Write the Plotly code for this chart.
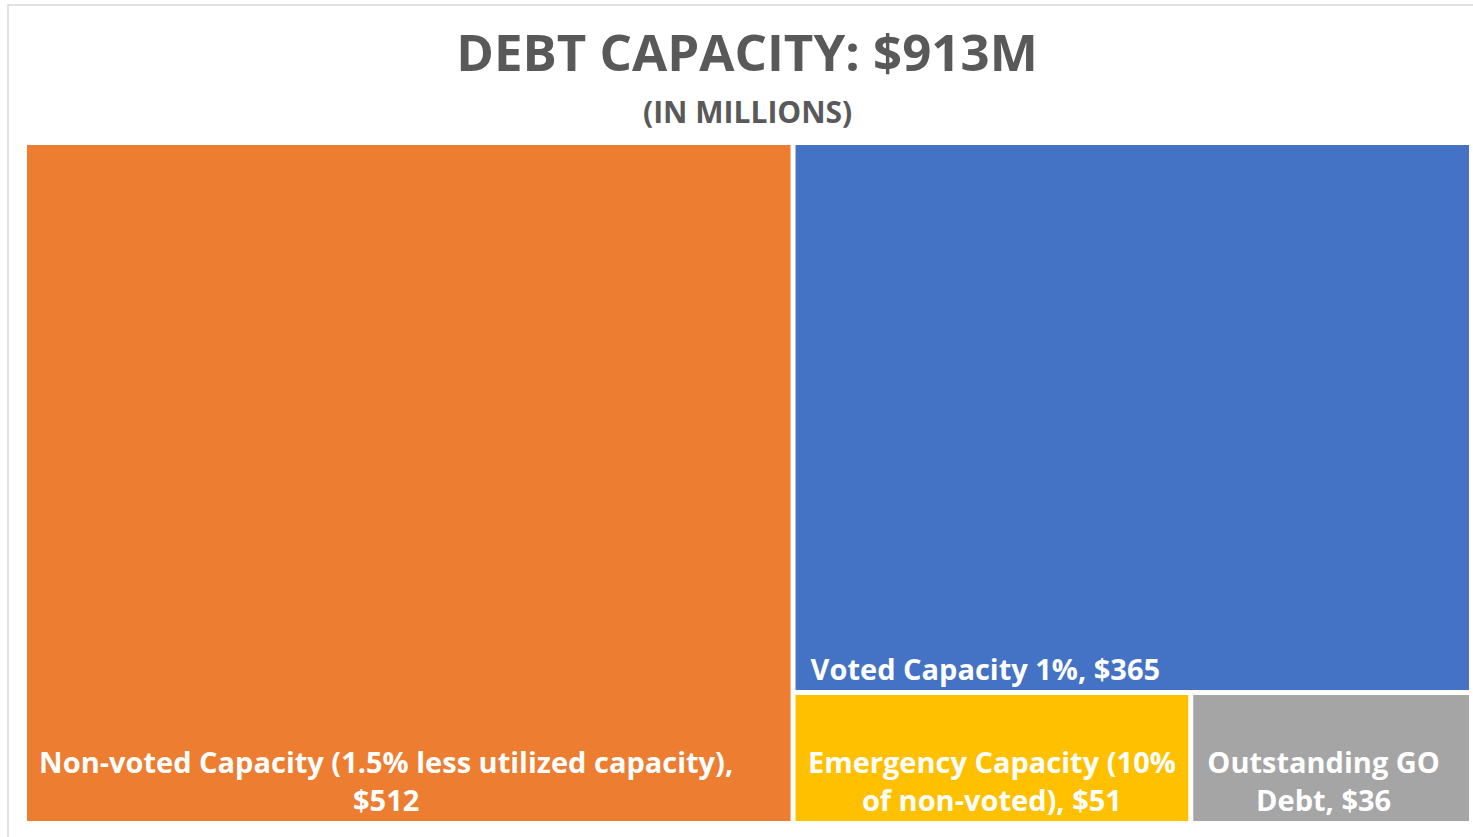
import plotly.graph_objects as go

# Debt capacity components (in millions)
names = [
    "Non-voted Capacity (1.5% less utilized capacity),<br>",
    "Voted Capacity 1%, ",
    "Emergency Capacity (10%<br>of non-voted), ",
    "Outstanding GO<br>Debt, ",
]
ids = ["nonvoted", "voted", "emergency", "outstanding"]
values = [512, 365, 51, 36]
colors = ["#ED7D31", "#4472C4", "#FFC000", "#A5A5A5"]
# trailing non-breaking spaces per label line, nudging labels leftward in their tiles
label_pad = [6, 39, 0, 2]

pads = ["\u00a0" * n for n in label_pad]
shown = [nm.replace("<br>", p + "<br>") for nm, p in zip(names, pads)]

W, H = 1473, 837
ML, MR, MT, MB = 26, 3, 144, 15
PLOT_W = W - ML - MR
PLOT_H = H - MT - MB
CENTER_X = (747 - ML) / PLOT_W

fig = go.Figure(
    go.Treemap(
        ids=ids,
        labels=shown,
        parents=[""] * len(values),
        values=values,
        customdata=pads,
        texttemplate="%{label}$%{value}%{customdata}",
        textposition="bottom center",
        textfont=dict(family="Open Sans", size=29, color="white", weight="bold"),
        marker=dict(
            colors=colors,
            line=dict(color="white", width=2),
            pad=dict(t=0, l=0, r=0, b=0),
        ),
        tiling=dict(packing="squarify", squarifyratio=1),
        pathbar=dict(visible=False),
        sort=True,
        hoverinfo="label+value",
    )
)

fig.update_layout(
    width=W,
    height=H,
    margin=dict(l=ML, r=MR, t=MT, b=MB),
    paper_bgcolor="white",
    title=dict(
        text="DEBT CAPACITY: $913M",
        x=CENTER_X,
        xanchor="center",
        xref="paper",
        y=1 - 53 / H,
        yanchor="middle",
        yref="container",
        font=dict(family="Open Sans", size=51, color="#595959", weight="bold"),
    ),
    annotations=[
        dict(
            text="(IN MILLIONS)",
            xref="paper",
            yref="paper",
            x=CENTER_X,
            y=1 + (MT - 111) / PLOT_H,
            xanchor="center",
            yanchor="middle",
            showarrow=False,
            font=dict(family="Open Sans", size=30, color="#595959", weight="bold"),
        )
    ],
    shapes=[
        dict(
            type="rect",
            xref="paper",
            yref="paper",
            x0=(8 - ML) / PLOT_W,
            x1=1.05,
            y0=-0.05,
            y1=1 + (MT - 5) / PLOT_H,
            line=dict(color="#D9D9D9", width=1.5),
            fillcolor="rgba(0,0,0,0)",
            layer="below",
        )
    ],
)

fig.write_html("out.html")
